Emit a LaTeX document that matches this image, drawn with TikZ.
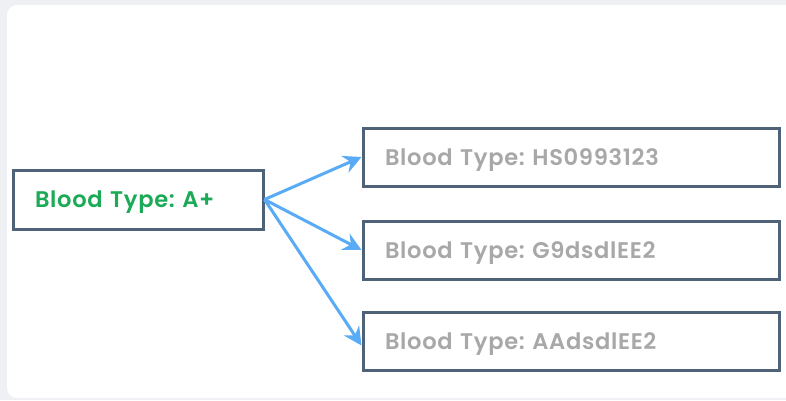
\documentclass[tikz,border=0pt]{standalone}
\usepackage{fontspec}
\setmainfont{Poppins}[BoldFont={* SemiBold}, LetterSpace=3]
\frenchspacing
\usetikzlibrary{arrows.meta}
\definecolor{bgc}{HTML}{EEF0F4}
\definecolor{boxc}{HTML}{4F6378}
\definecolor{greenc}{HTML}{1BAA55}
\definecolor{grayc}{HTML}{A8A8A8}
\definecolor{arrc}{HTML}{5AABF5}
\newcommand{\lowtext}[1]{\raisebox{-3pt}[\height][\depth]{#1}}
\tikzset{
  srcbox/.style={draw=boxc, line width=3pt, fill=white, minimum width=250pt, minimum height=59pt, inner sep=0pt, text=greenc, font=\fontsize{22.6}{26}\selectfont\bfseries, text width=206pt, align=left},
  dstbox/.style={draw=boxc, line width=3pt, fill=white, minimum width=416pt, minimum height=58pt, inner sep=0pt, text=grayc, font=\fontsize{22.6}{26}\selectfont\bfseries, text width=372pt, align=left},
  link/.style={draw=arrc, line width=3pt, -{Stealth[length=18pt, width=18pt, inset=6pt]}}
}
\begin{document}
\begin{tikzpicture}[x=1pt, y=-1pt]
\useasboundingbox (0,0) rectangle (786,400);
\fill[bgc] (0,0) rectangle (786,400);
\fill[white, rounded corners=10pt] (7,5) rectangle (800,398);
\node[srcbox] (src) at (138,199.5) {\lowtext{Blood Type: A+}};
\node[dstbox] (d1) at (571,157) {\lowtext{Blood Type: HS0993123}};
\node[dstbox] (d2) at (571,250) {\lowtext{Blood Type: G9dsdlEE2}};
\node[dstbox] (d3) at (571,341.5) {\lowtext{Blood Type: AAdsdlEE2}};
\draw[link] (src.east) -- (d1.west);
\draw[link] (src.east) -- (d2.west);
\draw[link] (src.east) -- ([yshift=-4pt]d3.west);
\end{tikzpicture}
\end{document}
